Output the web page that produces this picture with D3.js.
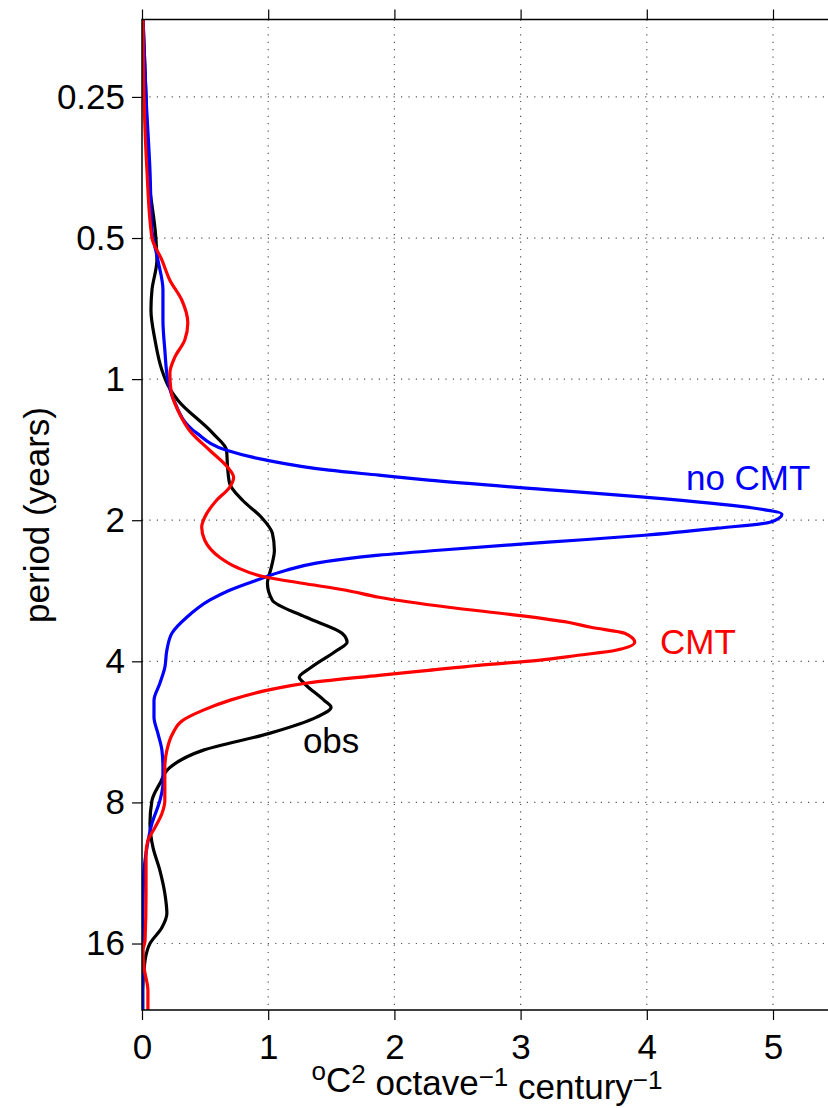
<!DOCTYPE html>
<html>
<head>
<meta charset="utf-8">
<script src="https://cdn.jsdelivr.net/npm/d3@7"></script>
<style>
  body { margin: 0; background: #fff; }
  svg text { font-family: "Liberation Sans", Arial, sans-serif; fill: #000; }
</style>
</head>
<body>
<div id="chart"></div>
<script>
// Spectra of temperature variance per octave vs. period (log2 axis)

// period ticks (years) and x ticks
const periodTicks = [0.25, 0.5, 1, 2, 4, 8, 16];
const powerTicks = [0, 1, 2, 3, 4, 5];

// obs (black)
const obsPeriod = [0.17, 0.25, 0.358, 0.5, 0.557, 0.645, 0.712, 0.825, 0.957, 1.03, 1.109, 1.304, 1.418, 1.541, 1.668, 1.813, 1.971, 2.132, 2.318, 2.519, 2.726, 2.963, 3.222, 3.485, 3.643, 3.789, 4.12, 4.327, 4.456, 4.846, 5.015, 5.267, 5.699, 6.195, 6.736, 7.286, 7.922, 8.868, 9.981, 11.18, 12.51, 13.81, 14.79, 16.0, 17.4, 20.16, 22.2];
const obsPower = [0.008, 0.032, 0.047, 0.11, 0.118, 0.079, 0.071, 0.103, 0.158, 0.205, 0.284, 0.56, 0.67, 0.678, 0.694, 0.797, 0.946, 1.033, 1.049, 1.025, 0.994, 1.033, 1.301, 1.585, 1.625, 1.546, 1.341, 1.246, 1.285, 1.443, 1.498, 1.38, 1.009, 0.481, 0.221, 0.142, 0.079, 0.063, 0.087, 0.142, 0.181, 0.197, 0.158, 0.063, 0.024, 0.006, 0.006];

// no CMT (blue)
const noCmtPeriod = [0.17, 0.25, 0.358, 0.481, 0.557, 0.645, 0.748, 0.867, 1.005, 1.109, 1.304, 1.418, 1.489, 1.564, 1.603, 1.643, 1.725, 1.786, 1.876, 1.941, 2.02, 2.08, 2.153, 2.228, 2.318, 2.375, 2.47, 2.557, 2.686, 2.821, 2.963, 3.222, 3.485, 3.789, 4.12, 4.456, 4.846, 5.267, 5.699, 6.195, 6.736, 7.286, 7.922, 8.868, 9.981, 11.18, 13.0, 16.56, 22.2];
const noCmtPower = [0.008, 0.032, 0.063, 0.079, 0.126, 0.166, 0.166, 0.181, 0.205, 0.252, 0.434, 0.67, 0.986, 1.483, 1.877, 2.27, 3.26, 3.98, 4.795, 5.071, 4.976, 4.558, 3.983, 3.218, 2.35, 1.877, 1.38, 1.144, 0.907, 0.694, 0.536, 0.355, 0.237, 0.197, 0.181, 0.142, 0.095, 0.095, 0.126, 0.158, 0.166, 0.166, 0.142, 0.079, 0.039, 0.016, 0.008, 0.004, 0.004];

// CMT (red)
const cmtPeriod = [0.17, 0.25, 0.358, 0.5, 0.557, 0.615, 0.678, 0.759, 0.825, 0.898, 0.971, 1.055, 1.165, 1.304, 1.418, 1.541, 1.619, 1.701, 1.813, 1.971, 2.07, 2.207, 2.399, 2.519, 2.647, 2.726, 2.821, 2.92, 3.067, 3.191, 3.302, 3.384, 3.485, 3.643, 3.789, 3.883, 3.98, 4.079, 4.181, 4.285, 4.434, 4.614, 4.846, 5.09, 5.346, 5.699, 6.195, 6.736, 7.922, 8.444, 9.045, 9.644, 10.28, 12.51, 15.77, 16.56, 18.0, 20.16, 22.2];
const cmtPower = [0.008, 0.016, 0.039, 0.079, 0.158, 0.221, 0.315, 0.363, 0.339, 0.26, 0.221, 0.229, 0.284, 0.394, 0.536, 0.678, 0.726, 0.694, 0.591, 0.497, 0.473, 0.497, 0.615, 0.749, 0.986, 1.27, 1.617, 1.877, 2.429, 2.981, 3.375, 3.557, 3.825, 3.904, 3.754, 3.454, 3.139, 2.666, 2.271, 1.877, 1.349, 0.986, 0.694, 0.481, 0.323, 0.244, 0.197, 0.181, 0.181, 0.158, 0.103, 0.047, 0.032, 0.032, 0.024, 0.008, 0.016, 0.047, 0.047];

const series = [
  { name: "obs", period: obsPeriod, power: obsPower, color: "#000000", label: { x: 1.275, p: 6.27 } },
  { name: "no CMT", period: noCmtPeriod, power: noCmtPower, color: "#0000ff", label: { x: 4.31, p: 1.72 } },
  { name: "CMT", period: cmtPeriod, power: cmtPower, color: "#ff0000", label: { x: 4.105, p: 3.85 } }
];

const width = 828, height = 1108;
const plotLeft = 142, plotTop = 19.5, plotBottom = 1010, plotRight = 832;
const fontSize = 35;

const svg = d3.select("#chart").append("svg")
  .attr("width", width)
  .attr("height", height);

const x = d3.scaleLinear().domain([0, 5]).range([plotLeft, plotLeft + 126.2 * 5]);
const y = d3.scaleLog().base(2).domain([0.1709, 22.18]).range([plotTop, plotBottom]);

svg.append("clipPath").attr("id", "plot-clip")
  .append("rect")
  .attr("x", plotLeft).attr("y", plotTop)
  .attr("width", plotRight - plotLeft).attr("height", plotBottom - plotTop);

// dotted grid
const grid = svg.append("g")
  .attr("stroke", "#555")
  .attr("stroke-width", 1.2)
  .attr("stroke-dasharray", "1.2,6.2");

grid.selectAll(".vgrid")
  .data(powerTicks.slice(1))
  .join("line")
  .attr("class", "vgrid")
  .attr("x1", d => x(d)).attr("x2", d => x(d))
  .attr("y1", plotTop).attr("y2", plotBottom);

grid.selectAll(".hgrid")
  .data(periodTicks)
  .join("line")
  .attr("class", "hgrid")
  .attr("x1", plotLeft).attr("x2", plotRight)
  .attr("y1", d => y(d)).attr("y2", d => y(d));

// spectra
const line = d3.line()
  .x(d => x(d[1]))
  .y(d => y(d[0]))
  .curve(d3.curveMonotoneY);

svg.append("g")
  .attr("clip-path", "url(#plot-clip)")
  .selectAll("path")
  .data(series)
  .join("path")
  .attr("fill", "none")
  .attr("stroke", d => d.color)
  .attr("stroke-width", 3.2)
  .attr("stroke-linejoin", "round")
  .attr("d", d => line(d3.zip(d.period, d.power)));

// axes
const xAxis = d3.axisBottom(x).tickValues(powerTicks).tickSize(10).tickPadding(14).tickFormat(d3.format("d"));
const xTop = d3.axisTop(x).tickValues(powerTicks).tickSize(10).tickFormat("");
const yAxis = d3.axisLeft(y).tickValues(periodTicks).tickSize(10).tickPadding(7).tickFormat(d => d);

function styleAxis(g) {
  g.select(".domain").remove();
  g.selectAll(".tick line").attr("stroke", "#000").attr("stroke-width", 1.2);
  g.selectAll(".tick text").style("font-size", fontSize + "px").attr("fill", "#000");
}

svg.append("g").attr("transform", `translate(0,${plotBottom})`).call(xAxis).call(styleAxis);
svg.append("g").attr("transform", `translate(0,${plotTop})`).call(xTop).call(styleAxis);
svg.append("g").attr("transform", `translate(${plotLeft},0)`).call(yAxis).call(styleAxis);

// box lines
svg.append("path")
  .attr("fill", "none")
  .attr("stroke", "#000")
  .attr("stroke-width", 1.5)
  .attr("d", `M${plotRight},${plotTop}H${plotLeft}V${plotBottom}H${plotRight}`);

// series labels
svg.append("g").selectAll("text")
  .data(series)
  .join("text")
  .attr("x", d => x(d.label.x))
  .attr("y", d => y(d.label.p))
  .style("fill", d => d.color)
  .style("font-size", fontSize + "px")
  .text(d => d.name);

// x label with superscripts
const supSize = "26px";
const xl = svg.append("text")
  .attr("x", (plotLeft + plotRight) / 2)
  .attr("y", 1089)
  .attr("text-anchor", "middle")
  .style("font-size", fontSize + "px");
xl.append("tspan").attr("dy", "-0.36em").style("font-size", supSize).text("o");
xl.append("tspan").attr("dy", "0.36em").text("C");
xl.append("tspan").attr("dy", "-0.36em").style("font-size", supSize).text("2");
xl.append("tspan").attr("dy", "0.36em").text(" octave");
xl.append("tspan").attr("dy", "-0.36em").style("font-size", supSize).text("\u22121");
xl.append("tspan").attr("dy", "0.36em").text(" century");
xl.append("tspan").attr("dy", "-0.36em").style("font-size", supSize).text("\u22121");

// y label
svg.append("text")
  .attr("transform", "translate(49,515) rotate(-90)")
  .attr("text-anchor", "middle")
  .style("font-size", fontSize + "px")
  .text("period (years)");
</script>
</body>
</html>
